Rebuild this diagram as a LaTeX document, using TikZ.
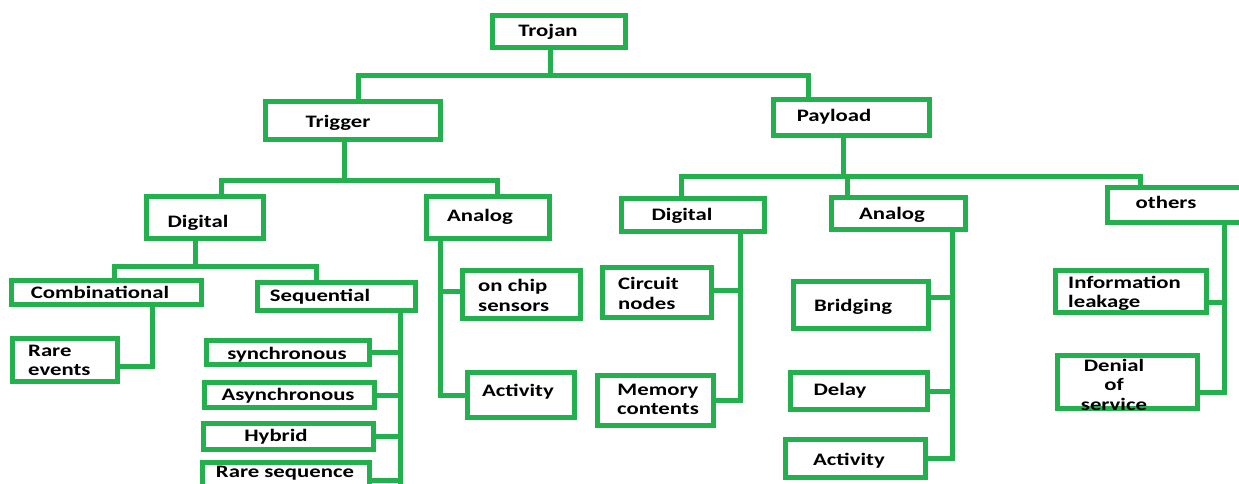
\documentclass[tikz,border=0pt]{standalone}
\usepackage{fontspec}
\setmainfont{Carlito}[FakeStretch=1.3]
\definecolor{tgreen}{HTML}{22B14C}
\tikzset{
  box/.style={draw=tgreen,line width=5pt,inner sep=0pt,fill=none},
  conn/.style={draw=tgreen,line width=5pt},
  lbl/.style={inner sep=0pt,yshift=-1.5pt,font=\fontsize{17.5}{19.5}\selectfont\bfseries,text=black},
}
\newcommand\bx[5]{\node[box,minimum width={#4-#2-5},minimum height={#5-#3-5}] (#1) at ({(#2+#4)/2},{(#3+#5)/2}) {};}
\begin{document}
\begin{tikzpicture}[x=1pt,y=-1pt]
\useasboundingbox[fill=white] (0,0) rectangle (1239,484);
% boxes
\bx{trojan}{490}{13}{628}{50}
\bx{trigger}{263}{99}{443}{142}
\bx{payload}{771}{97}{932}{138}
\bx{tdig}{144}{194}{266}{241}
\bx{tana}{424}{194}{552}{241}
\bx{comb}{9}{278}{204}{307}
\bx{seq}{255}{280}{418}{313}
\bx{rare}{10}{336}{120}{384}
\bx{sync}{204}{338}{372}{367}
\bx{async}{202}{380}{377}{410}
\bx{hyb}{201}{421}{376}{452}
\bx{rseq}{200}{460}{372}{492}
\bx{chip}{460}{268}{583}{321}
\bx{tact}{465}{370}{577}{420}
\bx{pdig}{619}{196}{767}{234}
\bx{pana}{829}{195}{968}{232}
\bx{others}{1105}{185}{1250}{225}
\bx{circ}{600}{265}{714}{320}
\bx{mem}{595}{373}{716}{428}
\bx{bridge}{791}{279}{931}{331}
\bx{delay}{788}{370}{930}{412}
\bx{pact}{783}{437}{928}{480}
\bx{info}{1053}{268}{1209}{315}
\bx{dos}{1055}{353}{1200}{411}
% labels
\node[lbl] (l-trojan) at (548,30) {Trojan};
\node[lbl] (l-trigger) at (338,121) {Trigger};
\node[lbl] (l-payload) at (834,115) {Payload};
\node[lbl] (l-tdig) at (198,221) {Digital};
\node[lbl] (l-tana) at (480,215) {Analog};
\node[lbl] (l-comb) at (100,291) {Combinational};
\node[lbl] (l-seq) at (320,295) {Sequential};
\node[lbl,align=left,anchor=west] (l-rare) at (28,359) {Rare\\events};
\node[lbl] (l-sync) at (287,353) {synchronous};
\node[lbl] (l-async) at (288,394) {Asynchronous};
\node[lbl] (l-hyb) at (276,435) {Hybrid};
\node[lbl] (l-rseq) at (285,472) {Rare sequence};
\node[lbl,align=left,anchor=west] (l-chip) at (478,294) {on chip\\sensors};
\node[lbl] (l-tact) at (518,390) {Activity};
\node[lbl] (l-pdig) at (682,214) {Digital};
\node[lbl] (l-pana) at (892,213) {Analog};
\node[lbl] (l-others) at (1166,201) {others};
\node[lbl,align=left,anchor=west] (l-circ) at (618,292) {Circuit\\nodes};
\node[lbl,align=center] (l-mem) at (658,398) {Memory\\contents};
\node[lbl] (l-bridge) at (853,305) {Bridging};
\node[lbl] (l-delay) at (840,389) {Delay};
\node[lbl] (l-pact) at (849,459) {Activity};
\node[lbl,align=left,anchor=west] (l-info) at (1068,292) {Information\\leakage};
\node[lbl,align=center] (l-dos) at (1114,383) {Denial\\of\\service};
% connectors
\draw[conn] (550,0 |- trojan.south) -- (550,76);
\draw[conn] (358,0 |- trigger.north) |- (808,76) -- (808,0 |- payload.north);
\draw[conn] (344,0 |- trigger.south) -- (344,180);
\draw[conn] (221,0 |- tdig.north) |- (497,180) -- (497,0 |- tana.north);
\draw[conn] (195,0 |- tdig.south) -- (195,266);
\draw[conn] (114,0 |- comb.north) |- (316,266) -- (316,0 |- seq.north);
\draw[conn] (152,0 |- comb.south) |- (120,366);
\draw[conn] (400,0 |- seq.south) -- (400,490);
\draw[conn] (sync.east) -- (400,0 |- sync.east);
\draw[conn] (async.east) -- (400,0 |- async.east);
\draw[conn] (hyb.east) -- (400,0 |- hyb.east);
\draw[conn] (372,480) -- (400,480);
\draw[conn] (440,0 |- tana.south) |- (tact.west);
\draw[conn] (440,291) -- (chip.west |- 0,291);
\draw[conn] (843,0 |- payload.south) -- (843,176);
\draw[conn] (681,0 |- pdig.north) |- (1140,176) -- (1140,0 |- others.north);
\draw[conn] (847,176) -- (847,0 |- pana.north);
\draw[conn] (740,0 |- pdig.south) |- (mem.east |- 0,400);
\draw[conn] (circ.east |- 0,290) -- (740,290);
\draw[conn] (952,0 |- pana.south) |- (pact.east);
\draw[conn] (bridge.east |- 0,297) -- (952,297);
\draw[conn] (delay.east) -- (952,0 |- delay.east);
\draw[conn] (1224,0 |- others.south) |- (dos.east |- 0,392);
\draw[conn] (info.east |- 0,302) -- (1224,302);
\end{tikzpicture}
\end{document}
